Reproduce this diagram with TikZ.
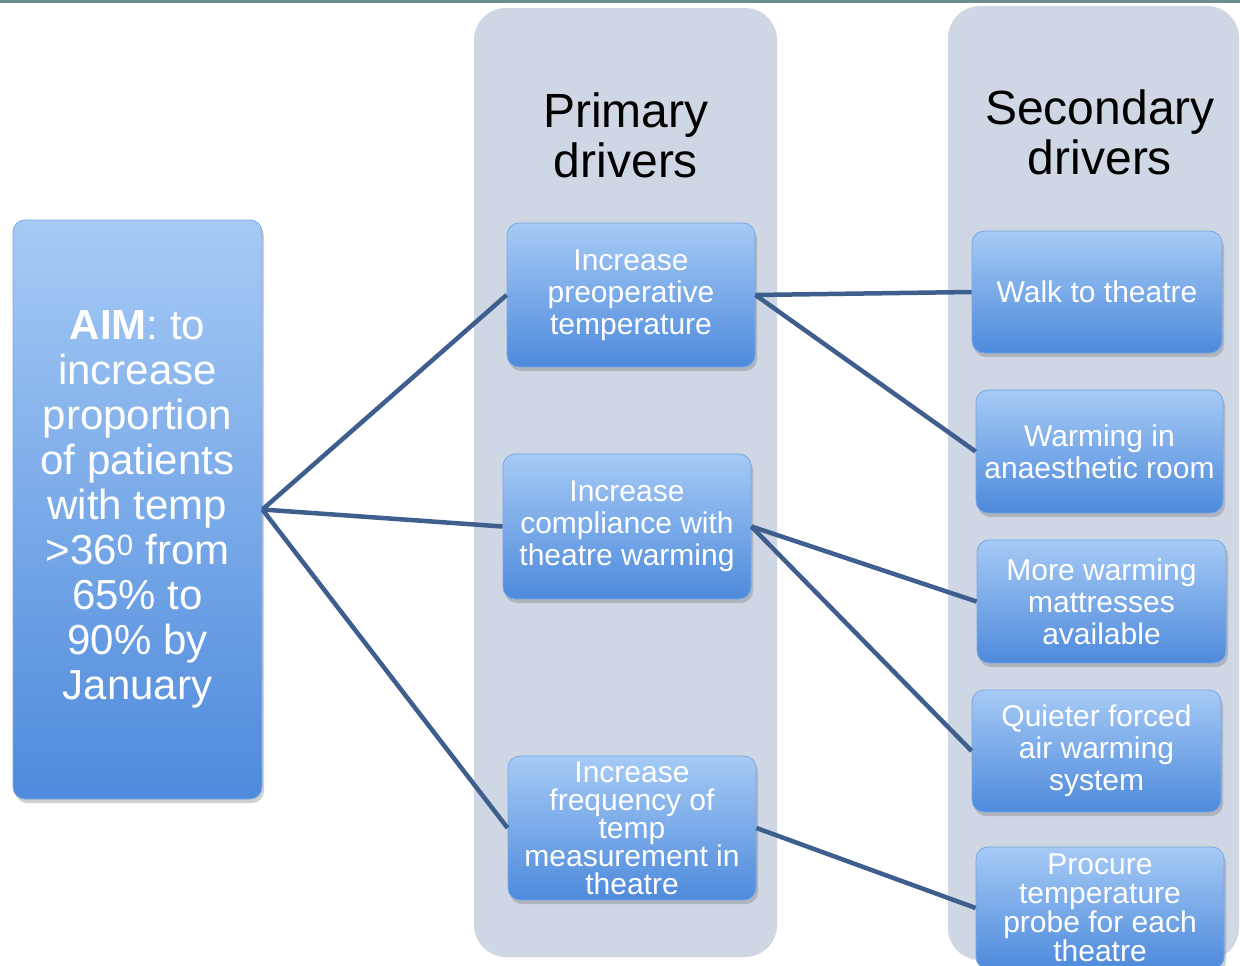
\documentclass[tikz,border=0pt]{standalone}
\usepackage{fontspec}
\setmainfont{Liberation Sans}
\usetikzlibrary{shadows}
\definecolor{colbg}{RGB}{207,214,228}
\definecolor{topline}{RGB}{110,140,140}
\definecolor{conn}{RGB}{62,95,142}
\definecolor{boxtop}{RGB}{166,202,245}
\definecolor{boxbot}{RGB}{78,138,220}
\definecolor{boxedge}{RGB}{120,168,228}
\begin{document}
\begin{tikzpicture}[x=1pt,y=-1pt,
  column/.style={fill=colbg, rounded corners=32pt},
  box/.style={rounded corners=12pt, top color=boxtop, bottom color=boxbot, draw=boxedge, line width=0.8pt,
    text=white, align=center, font=\fontsize{30}{32}\selectfont, inner sep=0pt,
    drop shadow={shadow xshift=2pt, shadow yshift=-4pt, opacity=0.3, fill=black!60}},
  header/.style={align=center, font=\fontsize{48}{50}\selectfont, text=black},
  link/.style={draw=conn, line width=4.5pt}]
\useasboundingbox (0,0) rectangle (1240,966);
\fill[white] (0,0) rectangle (1240,966);
\draw[topline, line width=3pt] (0,1.5) -- (1240,1.5);
% columns
\fill[column] (474,8) rectangle (777,957);
\fill[column] (948,6) rectangle (1239,960);
% headers
\node[header] (h1) at (626,135) {Primary\\drivers};
\node[header] (h2) at (1100,132) {Secondary\\drivers};
% nodes
\node[box, minimum width=249pt, minimum height=579pt, font=\fontsize{42}{45}\selectfont] (aim) at (137.5,509.5)
  {\textbf{AIM}: to\\increase\\proportion\\of patients\\with temp\\>36\textsuperscript{0} from\\65\% to\\90\% by\\January};
\node[box, minimum width=248pt, minimum height=144pt] (p1) at (631,295) {Increase\\preoperative\\temperature};
\node[box, minimum width=248pt, minimum height=145pt] (p2) at (627,526.5) {Increase\\compliance with\\theatre warming};
\node[box, minimum width=248pt, minimum height=144pt, font=\fontsize{30}{28}\selectfont] (p3) at (632,828) {Increase\\frequency of\\temp\\measurement in\\theatre};
\node[box, minimum width=250pt, minimum height=122pt] (s1) at (1097,292) {Walk to theatre};
\node[box, minimum width=247pt, minimum height=123pt] (s2) at (1099.5,451.5) {Warming in\\anaesthetic room};
\node[box, minimum width=249pt, minimum height=123pt] (s3) at (1101.5,601.5) {More warming\\mattresses\\available};
\node[box, minimum width=249pt, minimum height=122pt] (s4) at (1096.5,751) {Quieter forced\\air warming\\system};
\node[box, minimum width=248pt, minimum height=122pt, font=\fontsize{30}{29}\selectfont] (s5) at (1100,908) {Procure\\temperature\\probe for each\\theatre};
% connectors
\draw[link] (aim.east) -- (p1.west);
\draw[link] (aim.east) -- (p2.west);
\draw[link] (aim.east) -- (p3.west);
\draw[link] (p1.east) -- (s1.west);
\draw[link] (p1.east) -- (s2.west);
\draw[link] (p2.east) -- (s3.west);
\draw[link] (p2.east) -- (s4.west);
\draw[link] (p3.east) -- (s5.west);
\end{tikzpicture}
\end{document}
